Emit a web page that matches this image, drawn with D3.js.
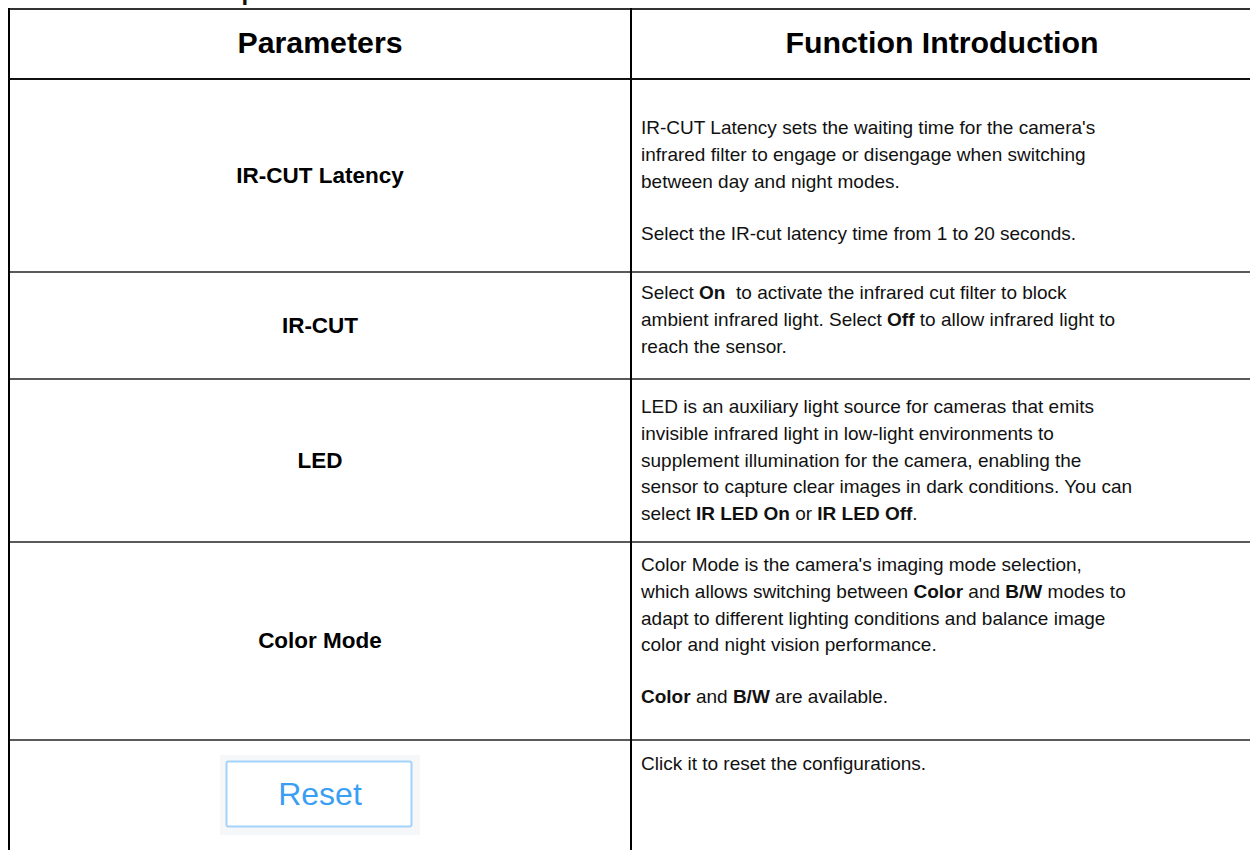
<!DOCTYPE html>
<html>
<head>
<meta charset="utf-8">
<script src="https://cdn.jsdelivr.net/npm/d3@7"></script>
<style>
  html, body { margin: 0; padding: 0; background: #fff; }
  svg { display: block; }
  text { font-family: "Liberation Sans", Arial, Helvetica, sans-serif; }
</style>
</head>
<body>
<svg id="chart" width="1250" height="850"></svg>
<script>
// ---------- data ----------
const pageTitle = "Description";
const headers = ["Parameters", "Function Introduction"];
const parameters = ["IR-CUT Latency", "IR-CUT", "LED", "Color Mode", "Reset"];

// each description: list of paragraphs; paragraph: list of lines; line: list of [text, bold]
const descIRCutLatency = [
  [[["IR-CUT Latency sets the waiting time for the camera's", false]],
   [["infrared filter to engage or disengage when switching", false]],
   [["between day and night modes.", false]]],
  [[["Select the IR-cut latency time from 1 to 20 seconds.", false]]]
];
const descIRCut = [
  [[["Select ", false], ["On", true], ["  to activate the infrared cut filter to block", false]],
   [["ambient infrared light. Select ", false], ["Off", true], [" to allow infrared light to", false]],
   [["reach the sensor.", false]]]
];
const descLED = [
  [[["LED is an auxiliary light source for cameras that emits", false]],
   [["invisible infrared light in low-light environments to", false]],
   [["supplement illumination for the camera, enabling the", false]],
   [["sensor to capture clear images in dark conditions. You can", false]],
   [["select ", false], ["IR LED On", true], [" or ", false], ["IR LED Off", true], [".", false]]]
];
const descColorMode = [
  [[["Color Mode is the camera's imaging mode selection,", false]],
   [["which allows switching between ", false], ["Color", true], [" and ", false], ["B/W", true], [" modes to", false]],
   [["adapt to different lighting conditions and balance image", false]],
   [["color and night vision performance.", false]]],
  [[["Color", true], [" and ", false], ["B/W", true], [" are available.", false]]]
];
const descReset = [
  [[["Click it to reset the configurations.", false]]]
];
const descriptions = [descIRCutLatency, descIRCut, descLED, descColorMode, descReset];
const resetButtonLabel = "Reset";

// ---------- layout ----------
const W = 1250, H = 850;
const xLeft = 9, xDiv = 631, xRight = 1253;
const yTop = 9, yHeader = 79;
const rowTops = [79, 272, 379, 542, 740];
const rowBottoms = [272, 379, 542, 740, 900];
const firstBaselines = [134, 299, 413, 571, 770];
const lineStep = 26.8, paraStep = 52;
const textX = 641;

const svg = d3.select("#chart");
const y = d3.scaleLinear().domain([0, H]).range([0, H]);

// title fragment (cut off at top, as in the reference)
svg.append("text")
  .attr("x", 168).attr("y", 0)
  .attr("font-size", 24).attr("font-weight", "bold").attr("fill", "#111")
  .text(pageTitle);

// header texts
svg.selectAll("text.hdr").data(headers).join("text")
  .attr("class", "hdr")
  .attr("x", (d, i) => i === 0 ? (xLeft + xDiv) / 2 : (xDiv + xRight) / 2)
  .attr("y", y(53))
  .attr("text-anchor", "middle")
  .attr("font-size", 30.3).attr("font-weight", "bold").attr("fill", "#000")
  .text(d => d);

// parameter labels (Reset is drawn as a button)
parameters.forEach((p, i) => {
  if (p === "Reset") {
    const g = svg.append("g");
    g.append("rect").attr("x", 220).attr("y", 755).attr("width", 200).attr("height", 80)
      .attr("fill", "#f6f7f8");
    g.append("rect").attr("x", 226.5).attr("y", 761.5).attr("width", 185).attr("height", 65)
      .attr("rx", 2).attr("fill", "#fff").attr("stroke", "#a3d2fb").attr("stroke-width", 2);
    g.append("text").attr("x", (xLeft + xDiv) / 2).attr("y", y(805))
      .attr("text-anchor", "middle").attr("font-size", 32).attr("fill", "#3a9ff3")
      .text(resetButtonLabel);
  } else {
    svg.append("text")
      .attr("x", (xLeft + xDiv) / 2)
      .attr("y", y(rowTops[i] + (rowBottoms[i] - rowTops[i]) / 2 + 7))
      .attr("text-anchor", "middle")
      .attr("font-size", 22.5).attr("font-weight", "bold").attr("fill", "#000")
      .text(p);
  }
});

// descriptions
descriptions.forEach((paras, i) => {
  let base = firstBaselines[i];
  paras.forEach((lines, pi) => {
    lines.forEach((segs, li) => {
      const t = svg.append("text")
        .attr("x", textX).attr("y", y(base))
        .attr("font-size", 19).attr("fill", "#111")
        .attr("xml:space", "preserve");
      t.selectAll("tspan").data(segs).join("tspan")
        .attr("font-weight", d => d[1] ? "bold" : "normal")
        .style("white-space", "pre")
        .text(d => d[0]);
      if (li < lines.length - 1) base += lineStep;
    });
    base += paraStep;
  });
});

// grid lines
const grid = svg.append("g");
grid.append("line").attr("x1", xLeft).attr("x2", W).attr("y1", yTop).attr("y2", yTop)
  .attr("stroke", "#333").attr("stroke-width", 2);
grid.append("line").attr("x1", xLeft).attr("x2", W).attr("y1", yHeader).attr("y2", yHeader)
  .attr("stroke", "#111").attr("stroke-width", 2);
grid.selectAll("line.row").data(rowTops.slice(1)).join("line")
  .attr("class", "row")
  .attr("x1", xLeft).attr("x2", W).attr("y1", d => y(d)).attr("y2", d => y(d))
  .attr("stroke", "#5a5a5a").attr("stroke-width", 2);
[xLeft, xDiv].forEach(x => {
  grid.append("line").attr("x1", x).attr("x2", x).attr("y1", yTop - 1).attr("y2", H)
    .attr("stroke", "#000").attr("stroke-width", 2);
});
</script>
</body>
</html>
